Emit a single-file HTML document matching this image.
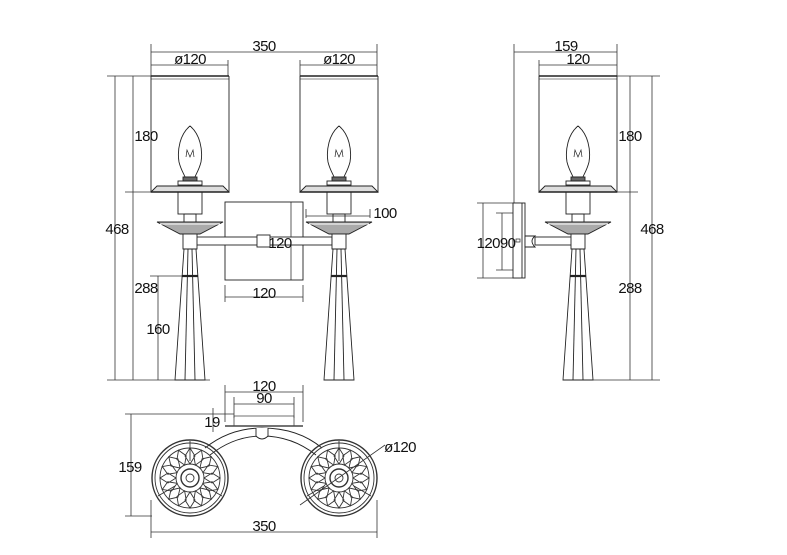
<!DOCTYPE html>
<html><head><meta charset="utf-8"><style>
html,body{margin:0;padding:0;background:#fff}
svg{display:block}
text{font-family:"Liberation Sans",sans-serif;font-size:15px;fill:#111;text-anchor:middle;letter-spacing:-0.6px}
</style></head><body>
<svg width="787" height="555" viewBox="0 0 787 555" xmlns="http://www.w3.org/2000/svg">
<defs>
<g id="lamp" fill="none" stroke="#222" stroke-width="0.9">
  <line x1="-39" y1="76" x2="39" y2="76" stroke-width="1.5"/>
  <line x1="-39" y1="79" x2="39" y2="79" stroke="#888"/>
  <line x1="-39" y1="76" x2="-39" y2="192"/>
  <line x1="39" y1="76" x2="39" y2="192"/>
  <path d="M0,126 C-10,134 -13,150 -11,162 C-9,170 -6,174 -5,177 L5,177 C6,174 9,170 11,162 C13,150 10,134 0,126Z"/>
  <path d="M-4,157 L-3,150 L0,157 L3,150 L4,157" stroke-width="0.7"/>
  <rect x="-7" y="177" width="14" height="4" fill="#666"/>
  <rect x="-12" y="181" width="24" height="4"/>
  <path d="M-39,192 L-33,186 L33,186 L39,192Z" fill="#ddd"/>
  <line x1="-39" y1="192" x2="39" y2="192" stroke-width="1.5"/>
  <rect x="-12" y="192" width="24" height="22"/>
  <rect x="-6" y="214" width="12" height="8"/>
  <path d="M-33,222 L33,222 L10,234 L-10,234Z" fill="#aaa"/>
  <path d="M-30,224 L30,224" stroke="#fff"/>
  <rect x="-7" y="234" width="14" height="15" fill="#fff"/>
  <path d="M-6,249 L6,249 L15,380 L-15,380Z" fill="#fff"/>
  <line x1="-2" y1="249" x2="-5" y2="380"/>
  <line x1="2" y1="249" x2="5" y2="380"/>
  <line x1="-8" y1="276" x2="8" y2="276" stroke-width="2.2"/>
</g>
<g id="rose" fill="none" stroke="#333" stroke-width="0.9">
  <circle r="38" stroke-width="1.4"/>
  <circle r="35"/>
  <circle r="30"/>
  <circle r="14"/>
  <circle r="9" stroke-width="1.4"/>
  <circle r="4"/>
  <g id="petals">
    <path d="M0,-30 L5,-22 L0,-14 L-5,-22Z"/>
    <path d="M0,-30 L5,-22 L0,-14 L-5,-22Z" transform="rotate(22.5)"/>
    <path d="M0,-30 L5,-22 L0,-14 L-5,-22Z" transform="rotate(45)"/>
    <path d="M0,-30 L5,-22 L0,-14 L-5,-22Z" transform="rotate(67.5)"/>
  </g>
  <use href="#petals" transform="rotate(90)"/>
  <use href="#petals" transform="rotate(180)"/>
  <use href="#petals" transform="rotate(270)"/>
  <line x1="0" y1="-37" x2="0" y2="-17"/>
  <line x1="-32" y1="18" x2="-15" y2="8"/>
  <line x1="32" y1="18" x2="15" y2="8"/>
</g>
</defs>

<g stroke="#333" stroke-width="0.8" fill="none">
<line x1="151" y1="44" x2="151" y2="76"/><line x1="377" y1="44" x2="377" y2="76"/>
<line x1="228" y1="60" x2="228" y2="76"/><line x1="300" y1="60" x2="300" y2="76"/>
<line x1="151" y1="52" x2="377" y2="52"/>
<line x1="151" y1="65" x2="228" y2="65"/><line x1="300" y1="65" x2="377" y2="65"/>
<line x1="107" y1="76" x2="151" y2="76"/>
<line x1="125" y1="192" x2="151" y2="192"/>
<line x1="107" y1="380" x2="210" y2="380"/>
<line x1="150" y1="276" x2="184" y2="276"/>
<line x1="115" y1="76" x2="115" y2="380"/>
<line x1="133" y1="76" x2="133" y2="380"/>
<line x1="158" y1="276" x2="158" y2="380"/>
<line x1="291" y1="202" x2="291" y2="280"/>
<line x1="225" y1="285" x2="225" y2="302"/><line x1="303" y1="285" x2="303" y2="302"/>
<line x1="225" y1="297" x2="303" y2="297"/>
<line x1="306" y1="209" x2="306" y2="218"/><line x1="370" y1="209" x2="370" y2="218"/>
<line x1="306" y1="216" x2="370" y2="216"/>
</g>
<rect x="225" y="202" width="78" height="78" fill="none" stroke="#222" stroke-width="0.9"/>
<rect x="196" y="237" width="136" height="8" fill="#fff" stroke="#222" stroke-width="0.9"/>
<rect x="257" y="235" width="13" height="12" fill="#fff" stroke="#222" stroke-width="0.9"/>
<use href="#lamp" x="190"/>
<use href="#lamp" x="339"/>
<text x="264" y="51">350</text>
<text x="190" y="64">ø120</text>
<text x="339" y="64">ø120</text>
<text x="117" y="234">468</text>
<text x="146" y="141">180</text>
<text x="146" y="293">288</text>
<text x="158" y="334">160</text>
<text x="280" y="248">120</text>
<text x="264" y="298">120</text>
<text x="385" y="218">100</text>

<g stroke="#333" stroke-width="0.8" fill="none">
<line x1="225" y1="385" x2="225" y2="422"/><line x1="303" y1="385" x2="303" y2="422"/>
<line x1="225" y1="392" x2="303" y2="392"/>
<line x1="234" y1="397" x2="234" y2="418"/><line x1="294" y1="397" x2="294" y2="418"/>
<line x1="234" y1="404" x2="294" y2="404"/>
<line x1="125" y1="414" x2="234" y2="414"/>
<line x1="213" y1="408" x2="213" y2="432"/>
<line x1="125" y1="516" x2="152" y2="516"/>
<line x1="131" y1="414" x2="131" y2="516"/>
<line x1="151" y1="500" x2="151" y2="538"/><line x1="377" y1="500" x2="377" y2="538"/>
<line x1="151" y1="532" x2="377" y2="532"/>
</g>
<line x1="225" y1="426" x2="303" y2="426" stroke="#222" stroke-width="1.3"/>
<path d="M234,426 L234,416 L294,416 L294,426" fill="none" stroke="#444" stroke-width="0.8"/>
<path d="M205,448 Q230,428 262,428 Q298,428 322,448" fill="none" stroke="#222" stroke-width="0.9"/>
<path d="M210,455 Q234,436 262,436 Q292,436 316,455" fill="none" stroke="#222" stroke-width="0.9"/>
<path d="M256,428 L256,436 Q262,442 268,436 L268,428" fill="#fff" stroke="#222" stroke-width="0.9"/>
<use href="#rose" x="190" y="478"/>
<use href="#rose" x="339" y="478"/>
<line x1="300" y1="505" x2="385" y2="445" stroke="#333" stroke-width="0.8"/>
<text x="264" y="391">120</text>
<text x="264" y="403">90</text>
<text x="212" y="427">19</text>
<text x="130" y="472">159</text>
<text x="264" y="531">350</text>
<text x="400" y="452">ø120</text>

<g stroke="#333" stroke-width="0.8" fill="none">
<line x1="514" y1="44" x2="514" y2="203"/><line x1="617" y1="44" x2="617" y2="76"/>
<line x1="539" y1="60" x2="539" y2="76"/>
<line x1="514" y1="52" x2="617" y2="52"/>
<line x1="539" y1="65" x2="617" y2="65"/>
<line x1="617" y1="76" x2="660" y2="76"/>
<line x1="617" y1="192" x2="638" y2="192"/>
<line x1="590" y1="380" x2="660" y2="380"/>
<line x1="630" y1="76" x2="630" y2="380"/>
<line x1="652" y1="76" x2="652" y2="380"/>
<line x1="477" y1="203" x2="520" y2="203"/><line x1="477" y1="278" x2="520" y2="278"/>
<line x1="496" y1="213" x2="520" y2="213"/><line x1="496" y1="270" x2="520" y2="270"/>
<line x1="483" y1="203" x2="483" y2="278"/>
<line x1="502" y1="213" x2="502" y2="270"/>
</g>
<rect x="513" y="203" width="12" height="75" fill="#fff" stroke="#222" stroke-width="0.9"/>
<line x1="522" y1="203" x2="522" y2="278" stroke="#222" stroke-width="0.9"/>
<rect x="516" y="239" width="4" height="3" fill="none" stroke="#222" stroke-width="0.7"/>
<path d="M525,236 L535,236 Q529,241 535,247 L525,247Z" fill="#fff" stroke="#222" stroke-width="0.9"/>
<rect x="535" y="237" width="38" height="8" fill="#fff" stroke="#222" stroke-width="0.9"/>
<use href="#lamp" x="578"/>
<text x="566" y="51">159</text>
<text x="578" y="64">120</text>
<text x="630" y="141">180</text>
<text x="652" y="234">468</text>
<text x="630" y="293">288</text>
<text x="496" y="248">12090</text>
</svg>
</body></html>
